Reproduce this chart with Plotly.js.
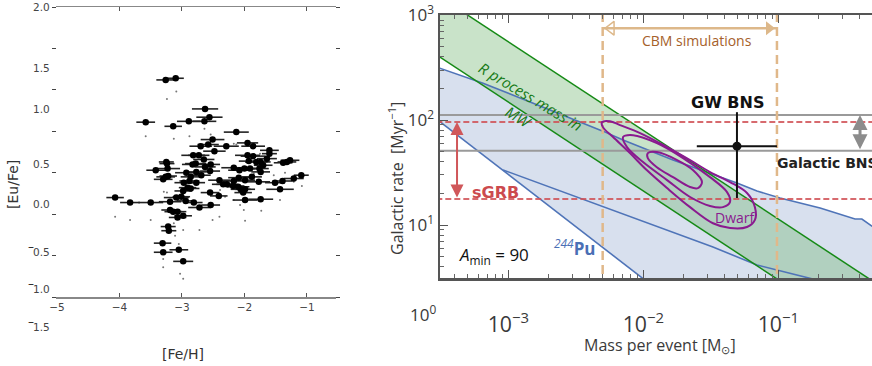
<!DOCTYPE html>
<html><head><meta charset="utf-8">
<script src="https://cdn.plot.ly/plotly-3.0.1.min.js"></script>
<style>html,body{margin:0;padding:0;background:#fff}</style>
</head><body><div id="chart" style="width:872px;height:366px"></div>
<script>
// ---------------- Left panel: [Eu/Fe] vs [Fe/H] ----------------
const feH = [
-3.26,-3.10,-2.63,-2.56,-3.58,-3.14,-2.89,-2.64,-2.13,-2.51,
-2.70,-2.58,-2.29,-2.48,-1.95,-1.86,-1.60,-1.60,-2.82,-2.73,
-1.95,-1.86,-1.64,-1.38,-1.32,-1.27,-3.25,-3.24,-2.83,-2.78,
-2.65,-2.54,-2.63,-3.42,-3.23,-2.93,-2.77,-2.55,-2.17,-2.08,
-1.93,-1.81,-1.74,-1.70,-1.76,-1.74,-1.91,-2.00,-1.09,-1.21,
-1.39,-1.51,-1.77,-1.88,-1.99,-2.09,-2.17,-2.34,-2.40,-2.28,
-3.30,-3.26,-3.22,-2.86,-2.69,-2.88,-2.97,-2.77,-2.91,-2.86,
-2.98,-2.18,-2.10,-2.06,-1.99,-2.02,-1.43,-1.74,-1.99,-2.41,
-2.55,-4.07,-3.83,-3.50,-3.19,-3.09,-3.01,-2.94,-2.81,-2.54,
-2.72,-3.19,-3.14,-3.07,-2.98,-3.07,-3.22,-3.21,-3.31,-3.30,
-3.05,-2.98];
const euFe = [
1.12,1.14,0.77,0.67,0.61,0.56,0.62,0.62,0.49,0.40,
0.32,0.34,0.32,0.26,0.36,0.32,0.27,0.23,0.21,0.21,
0.21,0.20,0.17,0.12,0.13,0.15,0.13,0.11,0.10,0.11,
0.16,0.10,0.07,0.03,0.05,0.00,0.01,0.02,0.06,0.03,
0.14,0.13,0.13,0.09,0.05,0.01,0.05,0.05,-0.03,-0.07,
-0.10,-0.12,-0.11,-0.05,-0.09,-0.06,-0.10,-0.14,-0.09,-0.14,
-0.08,-0.05,-0.04,-0.05,-0.03,-0.10,-0.12,-0.12,-0.18,-0.19,
-0.22,-0.16,-0.17,-0.20,-0.20,-0.24,-0.20,-0.32,-0.33,-0.28,
-0.24,-0.30,-0.36,-0.36,-0.35,-0.30,-0.29,-0.34,-0.36,-0.39,
-0.42,-0.45,-0.47,-0.47,-0.52,-0.54,-0.65,-0.70,-0.85,-0.96,
-0.93,-1.07];
const feHErr = [
0.15,0.13,0.21,0.21,0.15,0.14,0.19,0.19,0.20,0.19,
0.18,0.17,0.20,0.18,0.17,0.19,0.15,0.12,0.19,0.17,
0.20,0.20,0.16,0.15,0.15,0.15,0.12,0.12,0.17,0.17,
0.17,0.15,0.17,0.15,0.20,0.18,0.17,0.16,0.20,0.18,
0.16,0.18,0.16,0.15,0.15,0.15,0.18,0.18,0.12,0.16,
0.16,0.16,0.18,0.16,0.16,0.17,0.16,0.18,0.18,0.17,
0.15,0.15,0.14,0.16,0.15,0.16,0.15,0.14,0.14,0.14,
0.14,0.18,0.18,0.16,0.16,0.14,0.22,0.20,0.20,0.14,
0.15,0.14,0.16,0.20,0.18,0.20,0.14,0.14,0.14,0.15,
0.18,0.14,0.14,0.14,0.14,0.14,0.12,0.12,0.14,0.15,
0.15,0.16];
const ghostFeH = [-3.24,-3.09,-3.58,-2.88,-2.54,-2.13,-2.64,-3.13,-4.07,-3.83,-3.50,-3.29,-3.24,-3.01,-2.39,-2.31,-2.17,-2.07,-2.01,-1.99,-1.73,-1.43,-1.08,-1.21,-1.35,-2.98,-2.72,-2.51,-2.40,-3.11,-3.05,-3.30,-3.30,-3.03,-2.98,-3.13,-2.17,-1.75,-1.85,-1.53];
const ghostEuFe = [0.89,0.98,0.44,0.44,0.46,0.34,0.53,0.41,-0.53,-0.57,-0.57,-0.23,-0.24,-0.20,-0.21,-0.29,-0.33,-0.39,-0.45,-0.58,-0.46,-0.33,-0.16,-0.11,0.00,-0.69,-0.69,-0.57,-0.53,-0.76,-0.86,-1.14,-1.04,-1.22,-1.28,-0.61,0.35,0.23,-0.01,-0.03];
const leftYTickText = ['2.0','1.5','1.0','0.5','0.0','0.5','1.0','1.5'];
const leftYTickNeg  = [false,false,false,false,false,true,true,true];

// ---------------- Right panel: Galactic rate vs mass per event ----------------
const greenUpperM = [2.51e-4, 0.631], greenUpperR = [1795, 2.40];
const greenLowerM = [2.51e-4, 0.126], greenLowerR = [479, 2.47];
const steepM = [2.51e-4, 0.0126], steepR = [119.7, 2.44];
const puM = [9.14e-4, 6.72e-3, 0.0328, 0.0695, 0.181, 0.25], puR = [33.5, 13.0, 6.17, 4.16, 3.06, 2.75];
const blueUpperM = [2.51e-4, 3.12e-4, 6.50e-4, 5.02e-3, 7.08e-3, 0.0166, 0.0296, 0.0494, 0.0695, 0.103, 0.204, 0.370, 0.416, 0.493, 0.6];
const blueUpperR = [344, 312, 225, 78.5, 64.6, 41.6, 32.0, 25.1, 21.1, 18.1, 14.5, 11.4, 11.4, 9.77, 8.5];
const dwarfOuterM = [4.94e-3,5.66e-3,6.72e-3,9.46e-3,0.0150,0.0222,0.0312,0.0439,0.0586,0.0671,0.0671,0.0586,0.0439,0.0328,0.0222,0.0150,0.0106,7.96e-3,5.97e-3,5.02e-3,4.94e-3];
const dwarfOuterR = [95.7,97.7,89.6,75.2,55.3,41.6,32.0,25.7,20.2,14.8,11.2,9.57,9.36,10.4,14.8,22.5,33.4,48.5,68.9,85.7,95.7];
const dwarfMidM = [7.08e-3,8.40e-3,0.0126,0.0197,0.0312,0.0417,0.0439,0.0389,0.0312,0.0222,0.0150,9.95e-3,7.57e-3,7.08e-3];
const dwarfMidR = [68.9,71.9,60.4,43.5,28.6,20.6,16.6,14.8,15.2,18.5,26.8,39.8,55.3,68.9];
const dwarfInM = [0.0108,0.0126,0.0178,0.0233,0.0272,0.0254,0.0222,0.0166,0.0126,0.0108,0.0108];
const dwarfInR = [48.5,49.6,41.6,33.4,25.7,22.5,23.0,28.6,35.6,43.5,48.5];
const galBnsRates = [112, 51];
const sgrbRates = [96, 17.7];
const cbmMass = [5.0e-3, 0.0977];
const cbmRate = 751;
const gwMass = 0.0494, gwRate = 56.5;
const gwMassErr = [0.0483, 0.0245], gwRateErr = [62.5, 38.4];
const sgrbArrowMass = 4.17e-4;
const galBnsArrowMass = 0.403;
const spanM = [1e-4, 1];
const rateTickVals = [10, 100, 1000];
const rateTickText = ['10<sup>1</sup>','10<sup>2</sup>','10<sup>3</sup>'];

const L = Math.log10;
const tickFontR = {family:'Open Sans', size:17, color:'#3a3a3a'};

const traces = [];
// left scatter
traces.push({x:ghostFeH, y:ghostEuFe, xaxis:'x', yaxis:'y', mode:'markers', type:'scatter',
  marker:{size:2, color:'#777'}, hoverinfo:'skip'});
traces.push({x:feH, y:euFe, xaxis:'x', yaxis:'y', mode:'markers', type:'scatter',
  marker:{size:6.5, color:'#000'},
  error_x:{type:'data', array:feHErr, color:'#222', thickness:1.6, width:0}});

// right panel
const blueFillM = blueUpperM.concat([0.6], steepM.slice().reverse());
const blueFillR = blueUpperR.concat([2.0], steepR.slice().reverse());
traces.push({x:blueFillM, y:blueFillR, xaxis:'x2', yaxis:'y2', mode:'lines', fill:'toself',
  fillcolor:'rgba(178,194,222,0.5)', line:{width:0}, hoverinfo:'skip'});
const greenFillM = [greenUpperM[0], greenUpperM[1], greenLowerM[1], greenLowerM[0]];
const greenFillR = [greenUpperR[0], greenUpperR[1], greenLowerR[1], greenLowerR[0]];
traces.push({x:greenFillM, y:greenFillR, xaxis:'x2', yaxis:'y2', mode:'lines', fill:'toself',
  fillcolor:'rgba(120,185,120,0.4)', line:{width:0}, hoverinfo:'skip'});
const blueLine = {color:'#4f74b8', width:1.6};
[[blueUpperM,blueUpperR],[steepM,steepR],[puM,puR]].forEach(p=>{
  traces.push({x:p[0], y:p[1], xaxis:'x2', yaxis:'y2', mode:'lines', line:blueLine});
});
[[greenUpperM,greenUpperR],[greenLowerM,greenLowerR]].forEach(p=>{
  traces.push({x:p[0], y:p[1], xaxis:'x2', yaxis:'y2', mode:'lines', line:{color:'#168a16', width:1.5}});
});
galBnsRates.forEach(r=>traces.push({x:spanM, y:[r,r], xaxis:'x2', yaxis:'y2', mode:'lines', line:{color:'#9a9a9a', width:2}}));
sgrbRates.forEach(r=>traces.push({x:spanM, y:[r,r], xaxis:'x2', yaxis:'y2', mode:'lines', line:{color:'rgba(208,80,85,0.85)', width:1.8, dash:'6px,3px'}}));
cbmMass.forEach(m=>traces.push({x:[m,m], y:[1,3000], xaxis:'x2', yaxis:'y2', mode:'lines', line:{color:'#e0b88a', width:2.5, dash:'9px,5px'}}));
// CBM arrow
traces.push({x:cbmMass, y:[cbmRate,cbmRate], xaxis:'x2', yaxis:'y2', mode:'lines', line:{color:'#ddb88a', width:2.5}});
traces.push({x:[5.77e-3], y:[cbmRate], xaxis:'x2', yaxis:'y2', mode:'markers', marker:{symbol:'triangle-left-open', size:12, color:'#ddb88a', line:{width:1.5}}});
traces.push({x:[0.0853], y:[cbmRate], xaxis:'x2', yaxis:'y2', mode:'markers', marker:{symbol:'triangle-right', size:12, color:'#ddb88a'}});
// Dwarf contours
[[dwarfOuterM,dwarfOuterR],[dwarfMidM,dwarfMidR],[dwarfInM,dwarfInR]].forEach(p=>{
  traces.push({x:p[0], y:p[1], xaxis:'x2', yaxis:'y2', mode:'lines', line:{color:'#8a1a8f', width:2, shape:'spline', smoothing:1}});
});
// GW BNS point
traces.push({x:[gwMass], y:[gwRate], xaxis:'x2', yaxis:'y2', mode:'markers', marker:{size:9, color:'#111'},
  error_x:{type:'data', array:[gwMassErr[0]], arrayminus:[gwMassErr[1]], symmetric:false, color:'#111', thickness:2, width:0},
  error_y:{type:'data', array:[gwRateErr[0]], arrayminus:[gwRateErr[1]], symmetric:false, color:'#111', thickness:2, width:0}});

// ---- annotations
const ann = [];
const P = (px,py,t,font,extra)=>Object.assign({xref:'paper', yref:'paper', x:px/872, y:1-py/366, xanchor:'center', yanchor:'middle', showarrow:false, text:t, font:font}, extra||{});
const tickY = [7,68,109,164,204,252,289,327];
const leftTickFont = {family:'DejaVu Sans', size:10.5, color:'#444'};
leftYTickText.forEach((t,i)=>{
  ann.push(P(52, tickY[i], t, leftTickFont, {xanchor:'right'}));
  if (leftYTickNeg[i]) ann.push(P(31, tickY[i]-5, '–', {family:'DejaVu Sans', size:12, color:'#222'}));
});
ann.push(P(13, 185, '[Eu/Fe]', {family:'DejaVu Sans', size:14, color:'#333'}, {textangle:-90}));
ann.push(P(183, 354, '[Fe/H]', {family:'DejaVu Sans', size:14, color:'#333'}));

ann.push(P(396, 179, 'Galactic rate  [Myr<sup>−1</sup>]', {family:'Open Sans', size:16, color:'#3a3a3a'}, {textangle:-90}));
ann.push(P(660, 345, 'Mass per event [M<sub>⊙</sub>]', {family:'Open Sans', size:16, color:'#3a3a3a'}));
ann.push(P(423, 313, '10<sup>0</sup>', tickFontR));

// arrows
ann.push({xref:'x2', yref:'y2', axref:'x2', ayref:'y2', x:L(sgrbArrowMass), y:L(sgrbRates[0]), ax:L(sgrbArrowMass), ay:L(sgrbRates[1]),
  showarrow:true, arrowside:'end+start', arrowhead:2, arrowsize:1.3, arrowwidth:2, arrowcolor:'#d0575a', text:''});
ann.push({xref:'x2', yref:'y2', axref:'x2', ayref:'y2', x:L(galBnsArrowMass), y:L(galBnsRates[0]), ax:L(galBnsArrowMass), ay:L(galBnsRates[1]),
  showarrow:true, arrowside:'end+start', arrowhead:2, arrowsize:1, arrowwidth:3, arrowcolor:'#8c8c8c', text:''});

const txt = (m,r,t,font,extra)=>Object.assign({xref:'x2', yref:'y2', x:L(m), y:L(r), text:t, showarrow:false, xanchor:'center', yanchor:'middle', font:font}, extra||{});
ann.push(txt(0.0417,148,'<b>GW BNS</b>',{family:'DejaVu Sans', size:16, color:'#111'}));
ann.push(txt(0.095,38.9,'<b>Galactic BNS</b>',{family:'DejaVu Sans', size:14, color:'#222'},{xanchor:'left'}));
ann.push(txt(5.2e-4,20.2,'<b>sGRB</b>',{family:'DejaVu Sans', size:16, color:'#cc4a4e'},{xanchor:'left'}));
ann.push(txt(0.0478,11.9,'Dwarf',{family:'Open Sans', size:14, color:'#8a1a8f'}));
ann.push(txt(0.0249,578,'CBM simulations',{family:'Open Sans', size:14, color:'#a5602a'}));
ann.push(txt(1.45e-3,169,'<i>R process mass in</i>',{family:'Open Sans', size:15, color:'#167a16'},{textangle:31}));
ann.push(txt(1.2e-3,107,'<i>MW</i>',{family:'Open Sans', size:15, color:'#167a16'},{textangle:31}));
ann.push(txt(4.17e-4,5.07,'<i>A</i><sub>min</sub> = 90',{family:'Open Sans', size:17, color:'#111'},{xanchor:'left'}));
ann.push(txt(2.11e-3,6.04,'<sup><i>244</i></sup><b>Pu</b>',{family:'Open Sans', size:17, color:'#4a6fb5'},{xanchor:'left'}));

const layout = {
  width:872, height:366, margin:{l:0,r:0,t:0,b:0}, paper_bgcolor:'#fff', plot_bgcolor:'#fff', showlegend:false,
  xaxis:{domain:[57/872, 335/872], range:[-5,-0.55], anchor:'y', dtick:1, tick0:-5, showgrid:false, zeroline:false,
    showline:true, linecolor:'#888', linewidth:1.5, mirror:'ticks', ticks:'inside', ticklen:4, tickcolor:'#555',
    tickfont:leftTickFont},
  yaxis:{domain:[1-297/366, 1-7/366], range:[-1.5,2.0], anchor:'x', dtick:0.5, tick0:0, showgrid:false, zeroline:false,
    showline:true, linecolor:'rgba(0,0,0,0)', mirror:'ticks', ticks:'outside', ticklen:4, tickcolor:'#444', showticklabels:false},
  xaxis2:{domain:[440/872, 1], type:'log', range:[-3.506,-0.306], anchor:'y2', dtick:1, showgrid:false, zeroline:false,
    showline:true, linecolor:'#555', linewidth:2.5, mirror:'ticks', ticks:'inside', ticklen:8, tickcolor:'#555',
    exponentformat:'power', tickfont:tickFontR, ticklabelstandoff:27,
    minor:{ticks:'inside', ticklen:4, tickcolor:'#666', showgrid:false}},
  yaxis2:{domain:[1-278/366, 1-15/366], type:'log', range:[0.495,3.002], anchor:'x2', showgrid:false, zeroline:false,
    tickmode:'array', tickvals:rateTickVals, ticktext:rateTickText,
    showline:true, linecolor:'#555', linewidth:2.5, ticks:'inside', ticklen:8, tickcolor:'#555',
    tickfont:tickFontR, ticklabeloverflow:'allow',
    minor:{ticks:'inside', ticklen:4, tickcolor:'#666', showgrid:false, tickmode:'array',
      tickvals:[4,5,6,7,8,9,20,30,40,50,60,70,80,90,200,300,400,500,600,700,800,900]}},
  annotations:ann
};
Plotly.newPlot('chart', traces, layout, {displayModeBar:false, staticPlot:true});
</script></body></html>
